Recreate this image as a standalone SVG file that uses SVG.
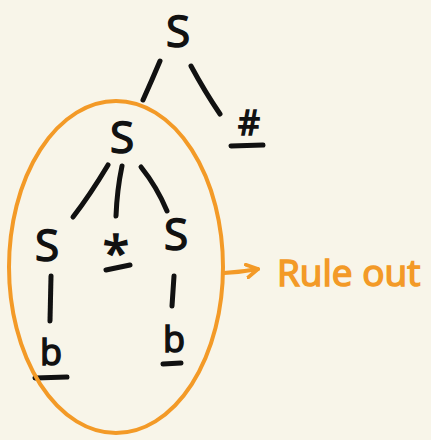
<svg xmlns="http://www.w3.org/2000/svg" width="431" height="440" viewBox="0 0 431 440">
  <style>
    .sym { font-family: "Open Sans", "Liberation Sans", sans-serif; font-size: 44px; fill: #111; stroke: #111; stroke-width: 1.5px; text-anchor: middle; }
    .leaf { font-size: 36px; }
    .edge { stroke: #111; stroke-width: 5; stroke-linecap: round; fill: none; }
    .hl { stroke: #f39a27; stroke-width: 4; fill: none; stroke-linecap: round; }
    .note { font-family: "Open Sans", "Liberation Sans", sans-serif; font-size: 37px; fill: #f39a27; stroke: #f39a27; stroke-width: 1.5px; }
  </style>
  <defs>
    <marker id="ah" viewBox="0 0 10 10" refX="8" refY="5" markerWidth="4" markerHeight="4" orient="auto">
      <path d="M1 1 L8 5 L1 9" fill="none" stroke="#f39a27" stroke-width="2.4" stroke-linecap="round" stroke-linejoin="round"/>
    </marker>
  </defs>
  <rect width="431" height="440" fill="#f8f5e9"/>

  <!-- tree edges -->
  <g id="edges">
    <path class="edge" d="M160 61 Q152 80 143 100"/>
    <path class="edge" d="M191 66 Q205 92 220 114"/>
    <path class="edge" d="M108 165 Q90 195 73 217"/>
    <path class="edge" d="M122 166 Q117 190 116 216"/>
    <path class="edge" d="M141 167 Q157 187 167 211"/>
    <path class="edge" d="M51 276 L50 321"/>
    <path class="edge" d="M174 276 L172 306"/>
    <!-- terminal underlines -->
    <path class="edge" d="M231 146 L263 145"/>
    <path class="edge" d="M106 270 L130 265"/>
    <path class="edge" d="M35 378 L67 377"/>
    <path class="edge" d="M163 364 L181 363"/>
  </g>

  <g id="root"><text class="sym" x="178" y="47">S</text></g>
  <g id="hash"><text class="sym" x="249" y="135" style="font-size:34px">#</text></g>
  <g id="mid"><text class="sym" x="122" y="153">S</text></g>
  <g id="left"><text class="sym" x="47" y="261">S</text></g>
  <g id="star"><text class="sym" x="116" y="270" style="font-size:48px">*</text></g>
  <g id="right"><text class="sym" x="176" y="250">S</text></g>
  <g id="leftleaf"><text class="sym leaf" x="51" y="365">b</text></g>
  <g id="rightleaf"><text class="sym leaf" x="174" y="352">b</text></g>

  <!-- highlighted subtree -->
  <g id="ruled">
    <ellipse class="hl" cx="116" cy="267" rx="107" ry="166"/>
    <path class="hl" d="M224 273 Q242 272 258 269" marker-end="url(#ah)"/>
    <text class="note" x="277" y="286">Rule out</text>
  </g>
</svg>
